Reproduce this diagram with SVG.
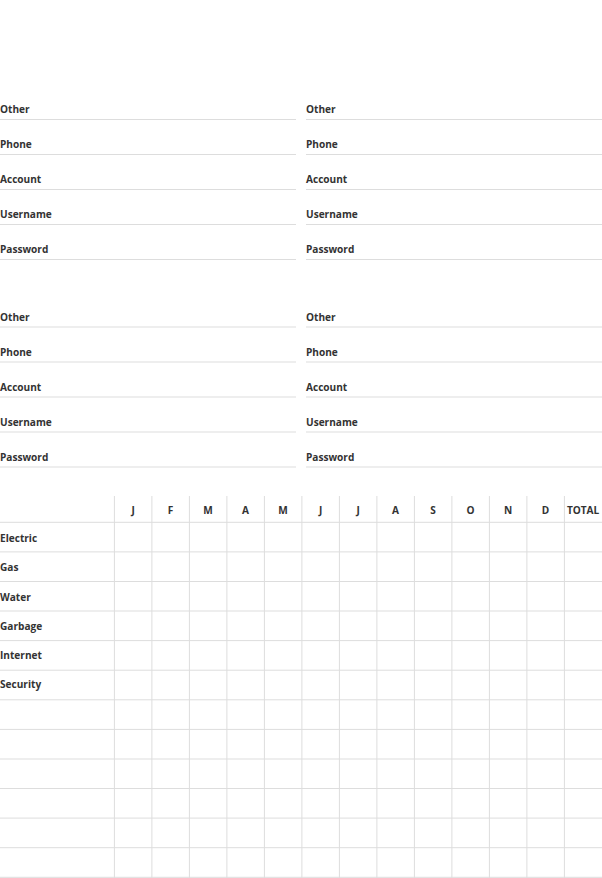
<svg xmlns="http://www.w3.org/2000/svg" width="602" height="878" viewBox="0 0 602 878">
<style>
text{font-family:"Open Sans","Liberation Sans",sans-serif;font-weight:bold;font-size:10.1px;fill:#333}
.ln{stroke:#dddddd;stroke-width:1;fill:none}
.h{text-anchor:middle}
</style>
<rect width="602" height="878" fill="#fff"/>
<g id="section1-left">
<text x="0" y="112.5">Other</text><line class="ln" x1="0" y1="119.5" x2="296" y2="119.5"/>
<text x="0" y="147.5">Phone</text><line class="ln" x1="0" y1="154.5" x2="296" y2="154.5"/>
<text x="0" y="182.5">Account</text><line class="ln" x1="0" y1="189.5" x2="296" y2="189.5"/>
<text x="0" y="217.5">Username</text><line class="ln" x1="0" y1="224.5" x2="296" y2="224.5"/>
<text x="0" y="252.5">Password</text><line class="ln" x1="0" y1="259.5" x2="296" y2="259.5"/>
</g>
<g id="section1-right">
<text x="306" y="112.5">Other</text><line class="ln" x1="306" y1="119.5" x2="602" y2="119.5"/>
<text x="306" y="147.5">Phone</text><line class="ln" x1="306" y1="154.5" x2="602" y2="154.5"/>
<text x="306" y="182.5">Account</text><line class="ln" x1="306" y1="189.5" x2="602" y2="189.5"/>
<text x="306" y="217.5">Username</text><line class="ln" x1="306" y1="224.5" x2="602" y2="224.5"/>
<text x="306" y="252.5">Password</text><line class="ln" x1="306" y1="259.5" x2="602" y2="259.5"/>
</g>
<g id="section2-left">
<text x="0" y="320.5">Other</text><line class="ln" x1="0" y1="327" x2="296" y2="327"/>
<text x="0" y="355.5">Phone</text><line class="ln" x1="0" y1="362" x2="296" y2="362"/>
<text x="0" y="390.5">Account</text><line class="ln" x1="0" y1="397" x2="296" y2="397"/>
<text x="0" y="425.5">Username</text><line class="ln" x1="0" y1="432" x2="296" y2="432"/>
<text x="0" y="460.5">Password</text><line class="ln" x1="0" y1="467" x2="296" y2="467"/>
</g>
<g id="section2-right">
<text x="306" y="320.5">Other</text><line class="ln" x1="306" y1="327" x2="602" y2="327"/>
<text x="306" y="355.5">Phone</text><line class="ln" x1="306" y1="362" x2="602" y2="362"/>
<text x="306" y="390.5">Account</text><line class="ln" x1="306" y1="397" x2="602" y2="397"/>
<text x="306" y="425.5">Username</text><line class="ln" x1="306" y1="432" x2="602" y2="432"/>
<text x="306" y="460.5">Password</text><line class="ln" x1="306" y1="467" x2="602" y2="467"/>
</g>
<g id="table-grid">
<line class="ln" x1="0" y1="522.3" x2="602" y2="522.3"/>
<line class="ln" x1="0" y1="551.9" x2="602" y2="551.9"/>
<line class="ln" x1="0" y1="581.5" x2="602" y2="581.5"/>
<line class="ln" x1="0" y1="611" x2="602" y2="611"/>
<line class="ln" x1="0" y1="640.6" x2="602" y2="640.6"/>
<line class="ln" x1="0" y1="670.2" x2="602" y2="670.2"/>
<line class="ln" x1="0" y1="699.8" x2="602" y2="699.8"/>
<line class="ln" x1="0" y1="729.4" x2="602" y2="729.4"/>
<line class="ln" x1="0" y1="759" x2="602" y2="759"/>
<line class="ln" x1="0" y1="788.5" x2="602" y2="788.5"/>
<line class="ln" x1="0" y1="818.1" x2="602" y2="818.1"/>
<line class="ln" x1="0" y1="847.7" x2="602" y2="847.7"/>
<line class="ln" x1="0" y1="877.3" x2="602" y2="877.3"/>
<line class="ln" x1="114.4" y1="496" x2="114.4" y2="878"/>
<line class="ln" x1="151.9" y1="496" x2="151.9" y2="878"/>
<line class="ln" x1="189.4" y1="496" x2="189.4" y2="878"/>
<line class="ln" x1="226.9" y1="496" x2="226.9" y2="878"/>
<line class="ln" x1="264.4" y1="496" x2="264.4" y2="878"/>
<line class="ln" x1="301.9" y1="496" x2="301.9" y2="878"/>
<line class="ln" x1="339.4" y1="496" x2="339.4" y2="878"/>
<line class="ln" x1="376.9" y1="496" x2="376.9" y2="878"/>
<line class="ln" x1="414.4" y1="496" x2="414.4" y2="878"/>
<line class="ln" x1="451.9" y1="496" x2="451.9" y2="878"/>
<line class="ln" x1="489.4" y1="496" x2="489.4" y2="878"/>
<line class="ln" x1="526.9" y1="496" x2="526.9" y2="878"/>
<line class="ln" x1="564.4" y1="496" x2="564.4" y2="878"/>
</g>
<g id="table-header">
<text class="h" x="133.1" y="514">J</text>
<text class="h" x="170.6" y="514">F</text>
<text class="h" x="208.1" y="514">M</text>
<text class="h" x="245.6" y="514">A</text>
<text class="h" x="283.1" y="514">M</text>
<text class="h" x="320.6" y="514">J</text>
<text class="h" x="358.1" y="514">J</text>
<text class="h" x="395.6" y="514">A</text>
<text class="h" x="433.1" y="514">S</text>
<text class="h" x="470.6" y="514">O</text>
<text class="h" x="508.1" y="514">N</text>
<text class="h" x="545.6" y="514">D</text>
<text class="h" x="583.1" y="514">TOTAL</text>
</g>
<g id="table-rows">
<text x="0" y="542.3">Electric</text>
<text x="0" y="571.3">Gas</text>
<text x="0" y="600.5">Water</text>
<text x="0" y="629.7">Garbage</text>
<text x="0" y="659">Internet</text>
<text x="0" y="688.2">Security</text>
</g>
</svg>
